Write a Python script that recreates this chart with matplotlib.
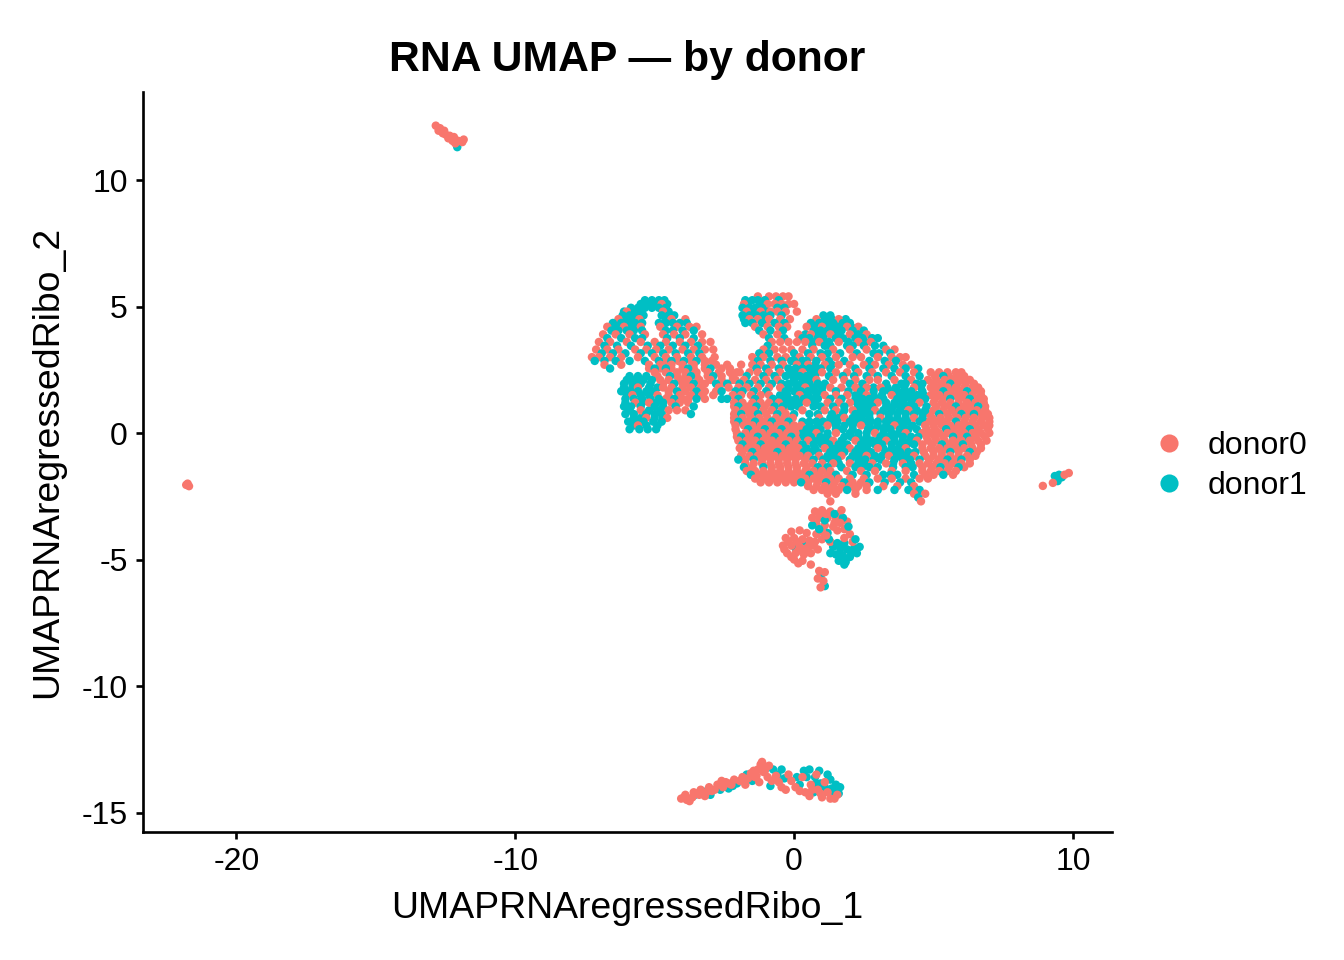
import matplotlib
matplotlib.use("Agg")
import matplotlib.pyplot as plt
from matplotlib.lines import Line2D

plt.rcParams['font.family'] = ['Liberation Sans', 'DejaVu Sans']
plt.rcParams['axes.unicode_minus'] = False

groups = ["donor0", "donor1"]
colors = ["#F8766D", "#00BFC4"]

# rows of points: (y, [x, ...]) for the two big clusters
d0_rows = [
    (5.4, [-1.3, -0.9, -0.65, -0.4, -0.2]),
    (5.1, [-4.75, -1.8, -0.95, -0.7, -0.45, -0.2, 0.0]),
    (4.8, [-6.0, -4.7, -1.7, -1.2, -0.85, -0.6, -0.3, 0.1]),
    (4.5, [-6.3, -5.55, -4.4, -3.9, -1.6, -1.3, -0.9, -0.5, -0.15, 0.8, 1.6]),
    (4.2, [-6.7, -6.1, -5.5, -4.8, -4.2, -3.75, -3.5, -1.4, -0.95, -0.55, -0.25, 0.45, 1.0, 1.9, 2.3]),
    (3.9, [-6.85, -6.4, -5.9, -5.35, -4.7, -4.3, -3.9, -3.3, -1.1, -0.6, 0.15, 0.6, 1.3, 2.0, 2.6]),
    (3.6, [-7.0, -6.6, -6.0, -5.5, -5.0, -4.6, -4.1, -3.7, -3.3, -3.0,
           -0.8, -0.5, -0.2, 0.1, 0.4, 0.9, 1.6, 2.3, 2.75]),
    (3.3, [-7.1, -6.7, -6.3, -5.7, -5.3, -4.95, -4.5, -4.0, -3.6, -3.2, -2.9,
           -1.1, -0.7, -0.4, -0.1, 0.3, 0.7, 1.4, 2.0, 2.6, 3.3, 3.6]),
    (3.0, [-7.25, -7.0, -6.6, -6.2, -5.6, -5.0, -4.6, -4.2, -3.7, -3.3, -2.85,
           -1.5, -1.1, -0.6, -0.3, 0.2, 0.6, 1.0, 1.5, 2.1, 2.4, 3.0, 3.5, 3.8, 4.0]),
    (2.7, [-6.8, -6.2, -5.2, -4.8, -4.4, -4.0, -3.6, -3.2, -2.8, -2.4,
           -1.9, -1.5, -1.2, -0.8, -0.4, 0.1, 0.5, 1.1, 1.6, 2.0, 2.5, 2.9, 3.4, 3.9, 4.2]),
    (2.4, [-5.0, -4.6, -4.2, -3.9, -3.5, -3.1, -2.7, -2.3, -2.05,
           -1.95, -1.6, -1.3, -0.9, -0.5, 0.3, 1.0, 1.5, 1.9, 2.3, 2.8, 3.3, 3.8, 4.3,
           4.9, 5.2, 5.5, 5.8, 6.0]),
    (2.1, [-4.8, -4.5, -4.1, -3.8, -3.4, -3.0, -2.6, -2.2,
           -2.1, -1.8, -1.4, -1.0, -0.6, 0.8, 1.4, 1.8, 2.2, 2.7, 3.0, 3.6, 4.2,
           4.8, 5.1, 5.4, 5.7, 6.0, 6.3]),
    (1.8, [-5.6, -4.7, -4.4, -4.0, -3.7, -3.35, -2.7, -2.35,
           -2.0, -1.7, -1.3, -0.9, -0.5, 0.4, 1.3, 1.7, 2.2, 2.6, 3.1, 4.3,
           4.9, 5.2, 5.5, 5.8, 6.1, 6.4, 6.6]),
    (1.5, [-5.8, -4.9, -4.5, -4.1, -3.7, -3.3, -2.9,
           -2.2, -1.9, -1.55, -1.2, -0.9, 0.2, 1.1, 1.5, 1.9, 2.6, 3.5,
           4.9, 5.2, 5.5, 5.8, 6.1, 6.4, 6.7]),
    (1.2, [-5.7, -5.2, -4.4, -4.1, -3.8,
           -2.15, -1.85, -1.5, -1.2, -0.9, -0.55, 0.45, 1.2, 1.6, 2.0, 3.0, 4.5,
           5.0, 5.3, 5.6, 5.9, 6.2, 6.5, 6.8]),
    (0.9, [-5.5, -4.5, -4.2, -3.9,
           -2.1, -1.8, -1.45, -1.1, -0.8, -0.45, 0.3, 1.1, 1.5, 2.1, 2.9, 4.1,
           5.0, 5.35, 5.65, 5.95, 6.25, 6.55, 6.85]),
    (0.6, [-5.3, -4.55,
           -2.15, -1.85, -1.55, -1.25, -0.95, -0.65, -0.35, -0.05, 0.9, 1.8, 3.1, 4.3,
           4.95, 5.25, 5.55, 5.85, 6.15, 6.45, 6.75, 7.0]),
    (0.3, [-5.6,
           -2.1, -1.8, -1.5, -1.2, -0.9, -0.6, -0.3, 0.0, 0.25, 1.2, 2.4, 3.6,
           4.7, 5.0, 5.3, 5.6, 5.9, 6.2, 6.5, 6.8, 7.0]),
    (0.0, [-2.05, -1.75, -1.45, -1.15, -0.85, -0.55, -0.25, 0.05, 0.8, 1.5, 2.9, 4.0,
           4.6, 4.9, 5.2, 5.5, 5.8, 6.1, 6.4, 6.7, 7.0]),
    (-0.3, [-2.0, -1.7, -1.4, -1.1, -0.8, -0.5, -0.2, 0.1, 0.5, 1.4, 2.2, 3.3,
            4.4, 4.8, 5.1, 5.4, 5.7, 6.0, 6.3, 6.6, 6.9]),
    (-0.6, [-1.95, -1.65, -1.35, -1.05, -0.75, -0.45, -0.15, 0.15, 1.1, 2.0, 3.0, 4.0,
            4.6, 4.9, 5.2, 5.5, 5.8, 6.1, 6.4, 6.7]),
    (-0.9, [-1.9, -1.6, -1.3, -1.0, -0.7, -0.4, -0.1, 0.2, 0.5, 0.9, 1.7, 2.6, 3.4, 4.3,
            4.7, 5.0, 5.3, 5.6, 5.9, 6.2, 6.5]),
    (-1.2, [-1.75, -1.45, -1.15, -0.85, -0.55, -0.25, 0.05, 0.35, 0.65, 1.0, 1.4, 2.0,
            2.8, 3.3, 3.9, 4.5, 4.8, 5.1, 5.4, 5.7, 6.0, 6.3]),
    (-1.5, [-1.7, -1.4, -1.1, -0.8, -0.5, -0.2, 0.1, 0.4, 0.7, 1.0, 1.3, 1.9, 2.4, 2.9,
            3.5, 4.0, 4.6, 4.9, 5.2, 5.5, 5.8]),
    (-1.8, [-1.4, -1.1, -0.8, -0.5, -0.2, 0.1, 0.4, 0.7, 1.0, 1.3, 1.6, 2.0, 2.5, 3.0,
            3.5, 4.0, 4.5, 4.8]),
    (-2.1, [0.5, 0.8, 1.1, 1.4, 1.7, 2.0, 2.3, 2.6, 3.2, 3.7, 4.3]),
    (-2.4, [1.2, 1.5, 2.2, 4.3, 4.7]),
    (-2.7, [1.3, 4.55]),
]

# extra donor0 points on the in-between rows, where donor0 is dense
d0_fill = [
    (2.85, [-4.6, -4.15, -3.7, -3.2, -2.95]),
    (2.55, [-5.2, -4.8, -4.4, -4.0, -3.6, -3.2, -2.6, -2.3]),
    (2.25, [-4.9, -4.2, -3.9, -3.5, -3.1, -2.6, -2.2, 5.05, 5.55, 5.85, 6.1]),
    (1.95, [-4.7, -4.0, -3.8, -3.2, -2.6, 5.0, 5.3, 5.85, 6.15, 6.45]),
    (1.65, [-4.5, -3.9, -3.2, -2.8, 5.05, 5.6, 5.9, 6.45, 6.7]),
    (1.35, [-4.6, -4.0, -3.8, -3.2, 5.05, 5.35, 5.9, 6.15, 6.55, 6.8]),
    (1.05, [-2.15, -1.65, -1.05, -0.25, 5.1, 5.4, 5.6, 6.1, 6.35, 6.85]),
    (0.75, [-2.15, -1.6, -1.0, -0.3, 4.85, 5.5, 5.8, 6.25, 6.7, 6.95]),
    (0.45, [-2.15, -1.7, -1.1, -0.5, 4.8, 5.1, 5.4, 6.1, 6.4, 6.7, 7.0]),
    (0.15, [-2.1, -1.35, -0.75, -0.15, 0.15, 4.75, 5.05, 5.7, 6.0, 6.6, 6.95]),
    (-0.15, [-2.05, -1.6, -1.0, -0.4, 0.1, 4.75, 5.05, 5.35, 5.95, 6.5, 6.85]),
    (-0.45, [-1.55, -0.9, -0.6, 0.0, 4.6, 4.95, 5.6, 5.85, 6.35, 6.7]),
    (-0.75, [-1.85, -1.2, -0.9, -0.3, 0.05, 4.65, 5.0, 5.3, 5.9, 6.55]),
    (-1.05, [-1.75, -1.15, -0.85, -0.55, -0.25, 0.05, 0.4, 4.85, 5.2, 5.8, 6.3]),
    (-1.35, [-1.5, -0.8, -0.5, -0.2, 0.1, 0.45, 4.6, 4.95, 5.55, 6.1]),
    (-1.65, [-1.3, -0.95, -0.65, -0.35, -0.05, 0.25, 0.85, 1.2, 4.7, 5.0, 5.7]),
    (-1.95, [-1.2, -0.9, -0.6, -0.3, 0.0, 0.5, 0.85, 1.45, 2.1, 2.4]),
    (-2.25, [0.7, 1.0, 1.3, 1.6, 2.2, 2.6]),
]

d1_rows = [
    (5.25, [-5.35, -5.1, -4.85, -4.65, -1.75, -1.5, -1.3, -1.05, -0.55]),
    (4.95, [-5.85, -5.6, -5.35, -5.1, -4.85, -4.6, -1.85, -1.6, -1.4, -1.15, -0.6, -0.35]),
    (4.65, [-6.15, -5.9, -5.65, -5.4, -4.75, -4.5, -4.3, -1.85, -1.6, -1.35, -1.1, -0.85, -0.45,
            1.05, 1.3]),
    (4.35, [-6.5, -6.2, -5.95, -5.7, -5.45, -4.85, -4.6, -4.35, -4.1, -3.85,
            -1.75, -1.5, -1.15, -0.7, -0.35, 0.6, 0.9, 1.15, 1.4, 1.75, 2.0]),
    (4.05, [-6.55, -6.3, -6.0, -5.75, -5.45, -4.6, -4.35, -4.0, -3.6,
            -1.25, -0.85, -0.4, 0.7, 0.95, 1.2, 1.45, 1.7, 2.1, 2.5]),
    (3.75, [-6.7, -6.2, -5.7, -5.45, -4.55, -4.1, -3.6,
            -0.9, -0.35, 0.3, 0.55, 0.85, 1.05, 1.5, 1.75, 2.2, 2.45, 2.8, 3.0]),
    (3.45, [-6.8, -6.35, -5.85, -5.25, -4.8, -4.35, -3.9, -3.45,
            -0.95, 0.65, 1.1, 1.3, 1.9, 2.1, 2.5, 2.9, 3.2]),
    (3.15, [-6.9, -6.5, -6.05, -5.5, -5.1, -4.7, -4.25, -3.8, -3.4,
            -1.25, -0.9, 0.0, 0.5, 0.95, 1.2, 1.65, 2.25, 2.85, 3.05, 3.45]),
    (2.85, [-7.15, -6.8, -6.4, -5.9, -5.35, -4.85, -4.4, -3.95, -3.5,
            -1.3, -0.85, -0.45, -0.1, 0.0, 0.3, 0.45, 0.8, 1.25, 1.8, 2.7, 3.25, 3.65]),
    (2.55, [-6.6, -5.0, -4.6, -3.8, -3.0,
            -1.35, -1.0, -0.55, -0.2, 0.05, 0.3, 0.55, 0.7, 0.95, 1.3, 2.2, 2.7, 3.2, 3.6,
            4.0, 4.45]),
    (2.25, [-5.9, -5.6, -5.3, -4.45, -3.7, -2.9,
            -1.7, -1.1, -0.7, -0.3, -0.05, 0.2, 0.45, 0.75, 1.25, 1.75, 2.15, 2.6, 3.0,
            3.5, 4.0, 4.5, 5.35]),
    (1.95, [-6.1, -5.8, -5.5, -5.15, -4.3, -3.6, -2.8, -2.4,
            -1.95, -1.6, -1.2, -0.8, -0.45, -0.2, 0.05, 0.3, 0.55, 0.85, 1.1, 2.0, 2.45,
            3.3, 3.85, 4.0, 4.4, 4.6, 5.6]),
    (1.65, [-6.2, -5.9, -5.6, -5.3, -5.0, -4.2, -3.5, -2.6,
            -2.1, -1.85, -1.45, -1.0, -0.3, 0.0, 0.25, 0.5, 0.75, 1.0, 1.5, 1.95, 2.4,
            2.85, 3.2, 3.45, 3.7, 3.95, 4.2, 4.6, 5.35, 6.2]),
    (1.35, [-6.05, -5.75, -5.45, -5.15, -4.85, -4.3, -3.5, -2.6,
            -2.4, -2.0, -1.4, -0.75, -0.45, -0.2, 0.05, 0.35, 0.6, 0.85, 1.3, 1.7, 2.2,
            2.45, 2.7, 2.95, 3.2, 3.7, 3.95, 4.2, 4.45, 4.7, 5.6, 6.3]),
    (1.05, [-6.1, -5.85, -5.5, -5.0, -4.7, -4.25, -3.6,
            -2.0, -1.35, -0.7, -0.4, -0.1, 0.15, 0.7, 0.95, 1.4, 1.8, 2.3, 2.55, 2.8,
            3.3, 3.55, 3.8, 4.05, 4.3, 4.75, 5.8, 6.6]),
    (0.75, [-6.05, -5.75, -5.3, -5.0, -4.75, -3.7,
            -1.9, -1.3, -0.6, 0.0, 0.55, 0.85, 1.35, 1.75, 2.2, 2.5, 2.7, 3.1, 3.4,
            3.7, 4.0, 4.3, 4.6, 5.2, 6.0, 6.45]),
    (0.45, [-5.95, -5.65, -5.4, -5.05, -4.75,
            -2.0, -1.4, -0.8, -0.2, 0.3, 0.55, 0.8, 1.05, 1.3, 1.55, 2.0, 2.25, 2.5,
            2.75, 3.0, 3.3, 3.55, 3.8, 4.05, 4.5, 5.8]),
    (0.15, [-5.9, -5.55, -5.25, -4.95,
            -1.65, -1.05, -0.45, 0.45, 0.7, 0.95, 1.5, 1.75, 2.1, 2.65, 2.9, 3.2, 3.45,
            3.8, 4.1, 4.4, 5.45, 6.3]),
    (-0.15, [-1.9, -1.3, -0.7, -0.1, 0.35, 0.6, 0.95, 1.2, 1.8, 2.05, 2.3, 2.6, 3.1,
             3.35, 3.6, 3.9, 4.2, 4.45, 5.7, 6.2]),
    (-0.45, [-1.85, -1.2, -0.3, 0.3, 0.7, 1.0, 1.25, 1.6, 1.9, 2.4, 2.65, 2.9, 3.15,
             3.5, 3.8, 4.05, 4.3, 5.3, 6.05]),
    (-0.75, [-1.5, -0.6, 0.35, 0.6, 0.85, 1.3, 1.55, 1.8, 2.2, 2.45, 2.75, 3.3, 3.55,
             3.8, 4.1, 4.35, 5.6, 6.3]),
    (-1.05, [-2.0, -1.45, 0.7, 1.05, 1.3, 1.55, 2.0, 2.3, 2.55, 2.85, 3.1, 3.6, 3.9,
             4.15, 4.5, 5.5, 6.0]),
    (-1.35, [-1.8, -1.1, 0.85, 1.2, 1.7, 2.2, 2.45, 2.7, 3.0, 3.55, 4.0, 4.25, 5.25, 5.9]),
    (-1.65, [-1.55, 0.55, 1.5, 2.1, 2.6, 3.2, 3.45, 3.7, 4.3, 5.35]),
    (-1.95, [0.25, 1.15, 1.8, 2.7, 3.25, 3.8, 4.2]),
    (-2.25, [1.9, 3.0, 3.6, 4.1, 4.5]),
    (-2.55, [4.45]),
]

# extra donor1 points on the in-between rows, where donor1 is dense
d1_fill = [
    (5.1, [-5.5, -5.2, -4.95, -4.55, -1.65, -1.2]),
    (4.8, [-6.1, -5.8, -5.5, -4.5, -1.5, -1.0]),
    (4.5, [-6.05, -5.8, -4.6, -1.8, -1.05, 1.1, 1.35, 1.85]),
    (4.2, [-6.4, -5.9, -5.65, 0.75, 1.25, 1.55, 2.05]),
    (3.9, [0.4, 0.85, 1.05, 1.6, 2.3]),
    (3.6, [0.65, 1.25, 1.95, 2.55]),
    (2.7, [0.25, 0.75, 1.35]),
    (2.4, [-0.1, 0.1, 0.6, 0.8]),
    (2.1, [-6.0, -5.7, -5.4, -5.1, 0.0, 0.3, 0.55]),
    (1.8, [-6.1, -5.8, -5.2, -4.9, -0.2, 0.1, 0.7, 1.0, 2.4, 2.85, 3.35, 3.65, 3.95, 4.55]),
    (1.5, [-6.0, -5.5, -5.2, -0.5, -0.25, 0.5, 0.8, 2.2, 2.35, 2.85, 3.15, 3.8, 4.1, 4.4, 4.65]),
    (1.2, [-6.05, -5.45, -4.95, -4.7, -0.3, 0.0, 0.2, 0.75, 2.25, 2.5, 2.75, 3.3, 3.6, 3.9, 4.2]),
    (0.9, [-5.9, -5.2, -4.8, 1.8, 2.4, 2.65, 3.2, 3.5, 3.8, 4.4, 4.7]),
    (0.6, [-5.75, -5.5, -5.0, -4.7, 1.3, 1.55, 2.1, 2.4, 2.7, 3.4, 3.7, 4.0, 4.6]),
    (0.3, [-5.75, -5.3, -4.9, 0.55, 0.85, 1.5, 1.8, 2.1, 2.7, 3.0, 3.3, 3.9, 4.25]),
    (0.0, [0.3, 0.55, 1.2, 2.0, 2.3, 2.6, 3.2, 3.5, 3.75]),
    (-0.3, [0.8, 1.1, 1.7, 2.5, 2.8, 3.0, 3.6, 3.9, 4.15]),
    (-0.6, [0.45, 0.75, 1.4, 1.7, 2.3, 2.6, 3.2, 3.5, 3.75]),
    (-0.9, [1.2, 1.45, 2.1, 2.35, 2.9, 3.15, 3.75, 4.0]),
    (-1.2, [1.6, 2.3, 2.55, 3.55, 4.2]),
]

# small clusters, (x, y) pairs
d0_small = [
    # cluster near y = -4.5
    (0.75, -3.1), (1.0, -3.05), (1.3, -3.1), (1.6, -3.2), (0.9, -3.35), (1.2, -3.35),
    (1.5, -3.4), (1.9, -3.5), (0.8, -3.6), (1.1, -3.65), (1.4, -3.7), (1.8, -3.8),
    (2.0, -4.0), (1.0, -3.9), (2.1, -4.3), (1.0, -4.2), (1.3, -4.3), (0.8, -4.0),
    (0.85, -4.6), (-0.1, -3.9), (0.2, -3.85), (0.45, -3.95), (-0.3, -4.15), (0.0, -4.15),
    (0.3, -4.2), (0.55, -4.25), (-0.4, -4.45), (-0.1, -4.45), (0.2, -4.5), (0.5, -4.5),
    (-0.25, -4.75), (0.05, -4.75), (0.35, -4.8), (0.6, -4.75), (0.0, -5.0), (0.3, -5.05),
    (0.6, -5.2), (-0.2, -4.3), (0.1, -4.3), (0.35, -4.6), (-0.1, -4.9), (0.15, -4.65),
    (0.9, -3.2), (1.15, -3.2), (1.45, -3.55), (1.65, -3.55), (1.7, -3.05), (0.65, -3.35),
    (1.55, -3.85), (1.8, -4.15), (0.45, -4.7), (0.7, -4.45), (-0.35, -4.6), (0.15, -5.15),
    (0.75, -4.3), (1.15, -4.05),
    # tail
    (0.9, -5.45), (1.1, -5.5), (0.85, -5.75), (1.05, -5.85), (0.95, -6.1),
    # bottom band
    (-4.05, -14.45), (-3.85, -14.5), (-3.9, -14.3), (-3.65, -14.4), (-3.6, -14.2),
    (-3.4, -14.3), (-3.35, -14.1), (-3.15, -14.2), (-3.05, -14.0), (-2.85, -14.1),
    (-2.75, -13.9), (-2.55, -14.0), (-2.45, -13.8), (-2.25, -13.9), (-2.15, -13.7),
    (-1.95, -13.75), (-1.85, -13.6), (-1.65, -13.65), (-1.55, -13.45), (-1.4, -13.6),
    (-1.3, -13.3), (-1.2, -13.1), (-1.1, -13.4), (-1.0, -13.2), (-0.95, -13.6),
    (-1.25, -13.8), (-0.8, -13.75), (-0.55, -13.8), (-0.3, -14.1), (-0.2, -13.5),
    (0.05, -14.0), (0.3, -13.6), (0.4, -14.2), (0.6, -13.9), (0.55, -14.35), (0.85, -14.1),
    (1.0, -14.4), (1.2, -14.2), (1.3, -14.45), (1.55, -14.3), (0.8, -13.5), (1.1, -13.8),
    (-2.6, -13.75), (-1.75, -13.9), (-3.75, -14.55), (-3.2, -14.35), (-1.15, -13.0),
    (-3.95, -14.4), (-3.5, -14.25), (-2.95, -14.15), (-2.35, -13.85), (-1.75, -13.7),
    (-1.45, -13.35), (-1.05, -13.35), (-0.9, -13.15), (-1.35, -13.55), (-0.65, -13.55),
    (-0.1, -13.75), (0.2, -14.15), (0.95, -14.25), (1.45, -14.45), (0.65, -14.1),
    (-0.45, -14.0),
    # top left
    (-12.85, 12.15), (-12.7, 12.05), (-12.75, 11.95), (-12.55, 11.95), (-12.5, 11.8),
    (-12.6, 11.85), (-12.35, 11.75), (-12.4, 11.65), (-12.2, 11.7), (-12.25, 11.55),
    (-12.05, 11.55), (-11.9, 11.5), (-12.15, 11.45), (-11.85, 11.6),
    # far left
    (-21.8, -2.05), (-21.7, -2.1), (-21.75, -2.0),
    # right
    (8.92, -2.09), (9.28, -1.97), (9.85, -1.58), (9.7, -1.65),
]

d1_small = [
    (1.4, -4.5), (1.65, -4.55), (1.9, -4.6), (2.15, -4.55), (1.5, -4.8), (1.75, -4.85),
    (2.0, -4.9), (1.6, -5.05), (1.85, -5.1), (2.35, -4.5), (1.2, -3.95), (0.65, -3.65),
    (0.05, -4.55), (1.75, -3.35), (1.95, -3.7), (1.45, -3.2), (0.4, -4.3), (1.25, -4.2),
    (2.2, -4.2), (1.55, -4.35), (1.8, -4.35), (2.05, -4.75), (1.3, -4.75), (1.65, -4.75),
    (1.8, -5.2), (2.25, -4.75), (1.1, -3.45), (0.9, -3.8),
    (0.95, -5.65), (1.1, -6.05),
    (-3.55, -14.3), (-3.3, -14.15), (-2.65, -14.1), (-2.05, -13.85), (-1.7, -13.5),
    (-2.35, -14.05), (-0.75, -13.3), (-0.45, -13.3), (-0.85, -13.95), (-0.35, -13.65),
    (0.1, -13.6), (0.55, -13.3), (0.75, -13.6), (0.9, -13.35), (1.3, -13.7), (1.5, -13.9),
    (1.6, -14.25), (1.35, -14.05), (0.95, -13.85), (0.2, -13.9), (0.7, -14.2),
    (1.05, -14.2), (1.65, -14.0), (0.35, -13.35),
    (-3.0, -14.3), (-2.2, -13.95), (-1.5, -13.75), (-0.6, -13.5), (0.45, -13.6),
    (1.2, -13.5), (1.1, -14.0), (1.45, -14.2), (0.8, -13.85),
    (-12.08, 11.3),
    (9.35, -1.7), (9.5, -1.65), (9.45, -1.9), (9.6, -1.75), (9.4, -1.8),
]

xticks = [-20, -10, 0, 10]
yticks = [-15, -10, -5, 0, 5, 10]

# interleave the row lists so neither donor sits fully on top
sets = [(d0_rows, colors[0]), (d1_rows, colors[1]), (d1_fill, colors[1]), (d0_fill, colors[0])]
px, py, pc = [], [], []
for i in range(max(len(r) for r, _ in sets)):
    for rows, col in sets:
        if i < len(rows):
            y, row = rows[i]
            px += row
            py += [y] * len(row)
            pc += [col] * len(row)
# small clusters: alternate the two donors point by point
n = max(len(d0_small), len(d1_small))
for i in range(n):
    for small, col in ((d0_small, colors[0]), (d1_small, colors[1])):
        if i < len(small):
            px.append(small[i][0])
            py.append(small[i][1])
            pc.append(col)

fig = plt.figure(figsize=(7, 5), dpi=192)
ax = fig.add_axes([143 / 1344, 128 / 960, (1112 - 143) / 1344, (832 - 92) / 960])

ax.scatter(px, py, c=pc, s=10, linewidths=0)

ax.set_xlim(-23.35, 11.4)
ax.set_ylim(-15.77, 13.48)
ax.set_xticks(xticks)
ax.set_yticks(yticks)
ax.tick_params(labelsize=12, length=2.75, width=1.0, colors="black", pad=3)
for s in ["top", "right"]:
    ax.spines[s].set_visible(False)
for s in ["left", "bottom"]:
    ax.spines[s].set_linewidth(1.0)

ax.set_xlabel("UMAPRNAregressedRibo_1", fontsize=14, labelpad=5)
ax.set_ylabel("UMAPRNAregressedRibo_2", fontsize=14, labelpad=6)
ax.set_title("RNA UMAP \u2014 by donor", fontsize=16, fontweight="bold", pad=8)

handles = [Line2D([], [], marker="o", linestyle="", markersize=6.8,
                  markerfacecolor=c, markeredgewidth=0) for c in colors]
fig.legend(handles, groups, loc="center left", bbox_to_anchor=(1150 / 1344, 1 - 466 / 960),
           frameon=False, fontsize=12, handletextpad=0.6, labelspacing=0.3,
           handlelength=1.2, borderaxespad=0, borderpad=0)

fig.savefig("out.png", dpi=192)
